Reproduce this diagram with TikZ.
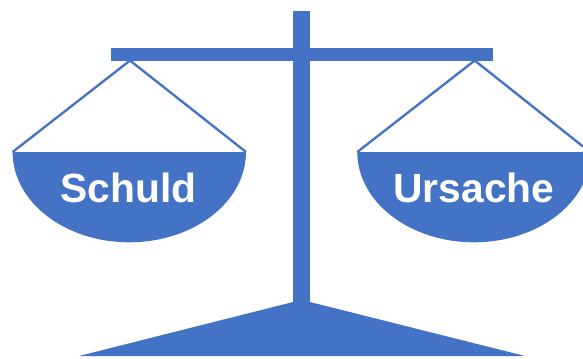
\documentclass[tikz,border=0pt]{standalone}
\usepackage{fontspec}
\setmainfont{Liberation Sans}
\definecolor{scaleblue}{HTML}{4472C4}
\tikzset{
  px/.style={x=0.75pt,y=-0.75pt},
  solidpart/.style={fill=scaleblue,draw=none},
  cord/.style={draw=scaleblue,line width=1.75pt},
  pantext/.style={text=white,font=\bfseries\fontsize{30.6}{36}\selectfont,inner sep=0pt}
}
\begin{document}
\begin{tikzpicture}[px]
\useasboundingbox (0,0) rectangle (583,358);
\fill[solidpart] (293,11) rectangle (310,305);
\fill[solidpart] (111,48.3) rectangle (492.5,61);
\fill[solidpart] (293,302) -- (310,302) -- (525,356) -- (79,356) -- cycle;
\coordinate (hl) at (130,60.5);
\coordinate (al) at (12.6,152);
\coordinate (bl) at (246,152);
\coordinate (hr) at (474.7,60.5);
\coordinate (ar) at (357.3,152);
\coordinate (br) at (583,146.5);
\fill[solidpart] (12.6,152) -- (246,152) arc[start angle=0,end angle=180,x radius=116.7,y radius=90.3] -- cycle;
\fill[solidpart] (357.3,152) -- (590.7,152) arc[start angle=0,end angle=180,x radius=116.7,y radius=90.3] -- cycle;
\draw[cord] (al) -- (hl) -- (bl);
\draw[cord] (ar) -- (hr) -- (br);
\node[pantext] (schuld) at (128.3,187.7) {Schuld};
\node[pantext] (ursache) at (474,187.7) {Ursache};
\end{tikzpicture}
\end{document}
